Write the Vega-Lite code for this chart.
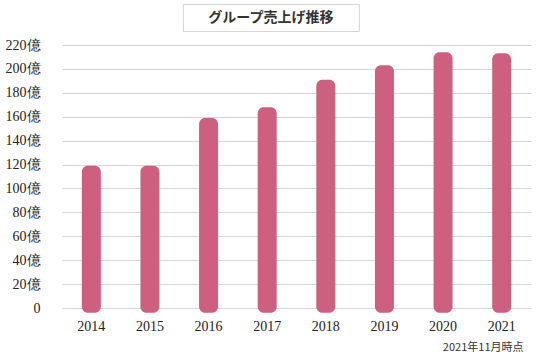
{
  "$schema": "https://vega.github.io/schema/vega-lite/v6.json",
  "padding": {"left": 5, "top": 3, "right": 3, "bottom": 3},
  "background": "white",
  "spacing": 6,
  "center": true,
  "config": {"view": {"stroke": null}},
  "vconcat": [
    {
      "width": 176,
      "height": 27,
      "view": {"stroke": "#d4d4d4", "strokeWidth": 1},
      "data": {"values": [{"title": "グループ売上げ推移"}]},
      "mark": {"type": "text", "font": "Noto Sans CJK JP", "fontSize": 14, "fontWeight": "bold", "color": "#333333", "align": "center", "baseline": "middle"},
      "encoding": {
        "text": {"field": "title"},
        "y": {
          "datum": 0,
          "type": "quantitative",
          "scale": {"domain": [-1, 1]},
          "axis": {"orient": "right", "values": [0], "labelExpr": "'0000000'", "labelColor": "transparent", "labelFontSize": 11, "labelPadding": 8, "ticks": false, "domain": false, "grid": false, "title": null}
        }
      }
    },
    {
      "width": 469,
      "height": 263,
      "data": {"values": [
        {"year": "2014", "sales": 119},
        {"year": "2015", "sales": 119},
        {"year": "2016", "sales": 159},
        {"year": "2017", "sales": 168},
        {"year": "2018", "sales": 191},
        {"year": "2019", "sales": 203},
        {"year": "2020", "sales": 214},
        {"year": "2021", "sales": 213}
      ]},
      "mark": {"type": "bar", "color": "#cd5f7f", "width": 19, "cornerRadius": 6, "clip": false},
      "encoding": {
        "x": {
          "field": "year", "type": "ordinal",
          "scale": {"paddingInner": 0, "paddingOuter": 0},
          "axis": {
            "title": "2021年11月時点",
            "labelAngle": 0,
            "labelFont": "Liberation Serif",
            "labelFontSize": 14,
            "labelColor": "#222222",
            "labelPadding": 11,
            "domain": false,
            "ticks": false,
            "grid": false,
            "titleFont": "Noto Sans CJK JP",
            "titleFontSize": 11,
            "titleFontWeight": "normal",
            "titleColor": "#333333",
            "titleAlign": "right",
            "titleAnchor": "end",
            "titleX": 461,
            "titleY": 39,
            "titleBaseline": "middle"
          }
        },
        "y": {
          "field": "sales", "type": "quantitative",
          "scale": {"domain": [0, 220], "nice": false, "zero": true},
          "axis": {
            "title": null,
            "values": [0, 20, 40, 60, 80, 100, 120, 140, 160, 180, 200, 220],
            "labelExpr": "datum.value == 0 ? '0' : datum.value + '億'",
            "labelFont": "Liberation Serif",
            "labelFontSize": 14,
            "labelColor": "#222222",
            "labelPadding": 22,
            "domain": false,
            "ticks": false,
            "gridColor": "#d6d6d6",
            "gridWidth": 1.2
          }
        },
        "y2": {"datum": -4}
      }
    }
  ]
}
